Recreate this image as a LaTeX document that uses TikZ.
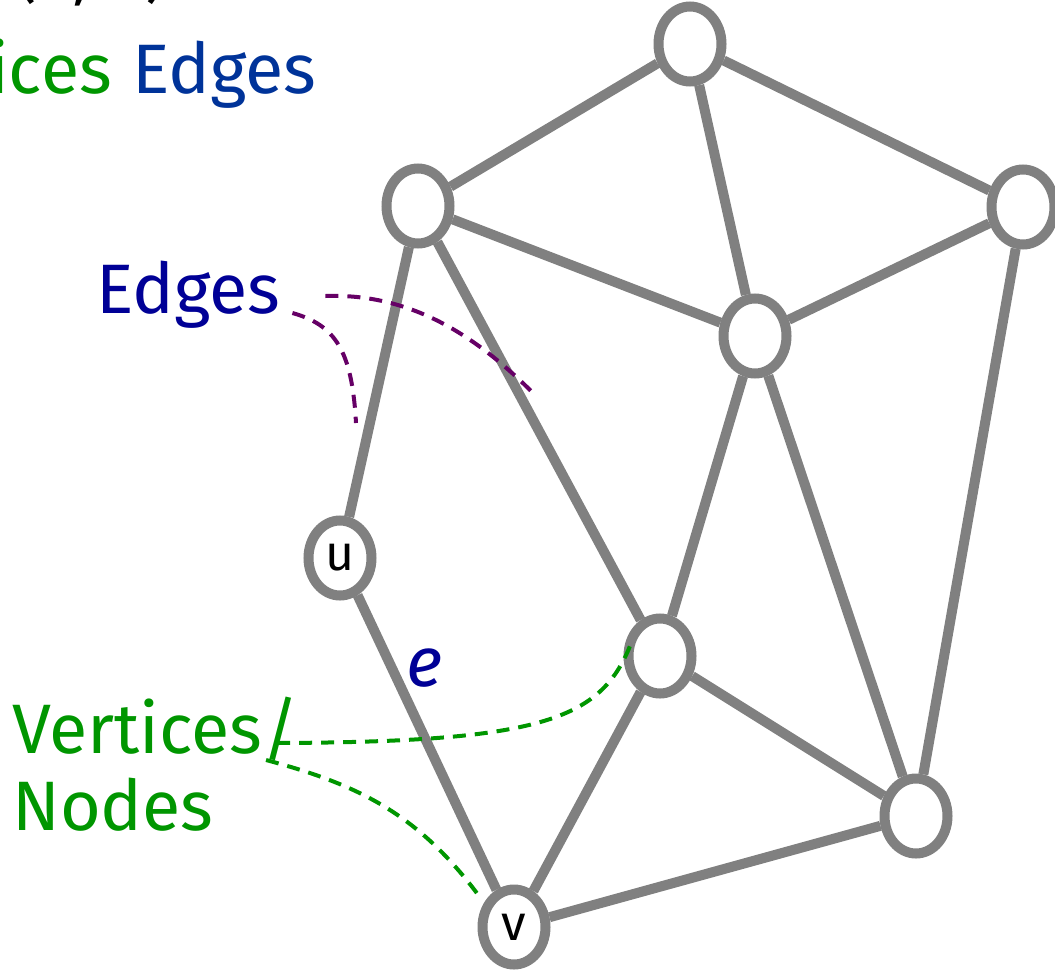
\documentclass[tikz,border=0pt]{standalone}
\usepackage{fontspec}
\setmainfont{Fira Sans}
\usepackage{xcolor}
\usetikzlibrary{
    shapes.geometric,
    calc
}
\definecolor{edgegray}{RGB}{128,128,128}
\definecolor{navyblue}{RGB}{0,0,150}
\definecolor{titleblue}{RGB}{0,51,153}
\definecolor{leafgreen}{RGB}{0,150,0}
\definecolor{plum}{RGB}{102,0,102}
\tikzset{
    vertex/.style={
        ellipse,
        draw=edgegray,
        line width=10pt,
        fill=white,
        minimum width=63pt,
        minimum height=75pt,
        inner sep=0pt,
        font=\fontsize{50}{54}\selectfont
    },
    edge/.style={
        draw=edgegray,
        line width=10pt
    },
    labeltext/.style={
        inner sep=0pt,
        font=\fontsize{70}{80}\selectfont
    },
    pointer/.style={
        dashed,
        dash pattern=on 13pt off 9pt,
        line width=4pt
    }
}

\begin{document}
\begin{tikzpicture}[x=1pt, y=-1pt]
\useasboundingbox (0,0) rectangle (1055,972);

% title, cut by the page
\node[labeltext, anchor=base east] (title) at (168,-6) {G = (V, E)};
\node[labeltext, text=leafgreen, anchor=base east] (titleV) at (112,93) {Vertices};
\node[labeltext, text=titleblue, anchor=base west] (titleE) at (132,93) {Edges};

% vertices
\node[vertex] (top) at (690,44) {};
\node[vertex] (nw) at (418,206) {};
\node[vertex] (east) at (1023,207) {};
\node[vertex] (mid) at (755,336) {};
\node[vertex] (u) at (340,558) {u};
\node[vertex] (low) at (660,656) {};
\node[vertex] (se) at (916,816) {};
\node[vertex] (v) at (514,927) {v};

% edges
\foreach \a/\b in {top/nw, top/east, top/mid, nw/mid, nw/u, nw/low,
                   east/mid, east/se, mid/low, mid/se, u/v, low/v, low/se, v/se}
    \draw[edge] (\a) -- (\b);

% labels
\node[labeltext, text=navyblue, anchor=base west] (edgesLabel) at (96,313) {Edges};
\node[labeltext, text=navyblue, font=\fontsize{70}{80}\selectfont\itshape] (eLabel) at (425,668) {e};
\node[labeltext, text=leafgreen, anchor=base west] (vertLabel) at (12,753) {Vertices/};
\node[labeltext, text=leafgreen, anchor=base west] (nodesLabel) at (12,830) {Nodes};

\coordinate (edgeTipA) at (356,423);
\coordinate (edgeTipB) at (532,392);
\coordinate (vertTipA) at (630,646);
\coordinate (vertTipB) at (482,900);

\draw[pointer, plum] ([xshift=12pt]edgesLabel.base east) .. controls (335,325) and (352,350) .. (edgeTipA);
\draw[pointer, plum] ($(edgesLabel.base east)+(45,-17)$) .. controls (410,293) and (475,335) .. (edgeTipB);
\draw[pointer, leafgreen] ([xshift=-22pt,yshift=10pt]vertLabel.base east) .. controls (540,742) and (600,720) .. (vertTipA);
\draw[pointer, leafgreen] ([xshift=-33pt,yshift=-7pt]vertLabel.base east) .. controls (360,785) and (420,815) .. (vertTipB);

\end{tikzpicture}
\end{document}
